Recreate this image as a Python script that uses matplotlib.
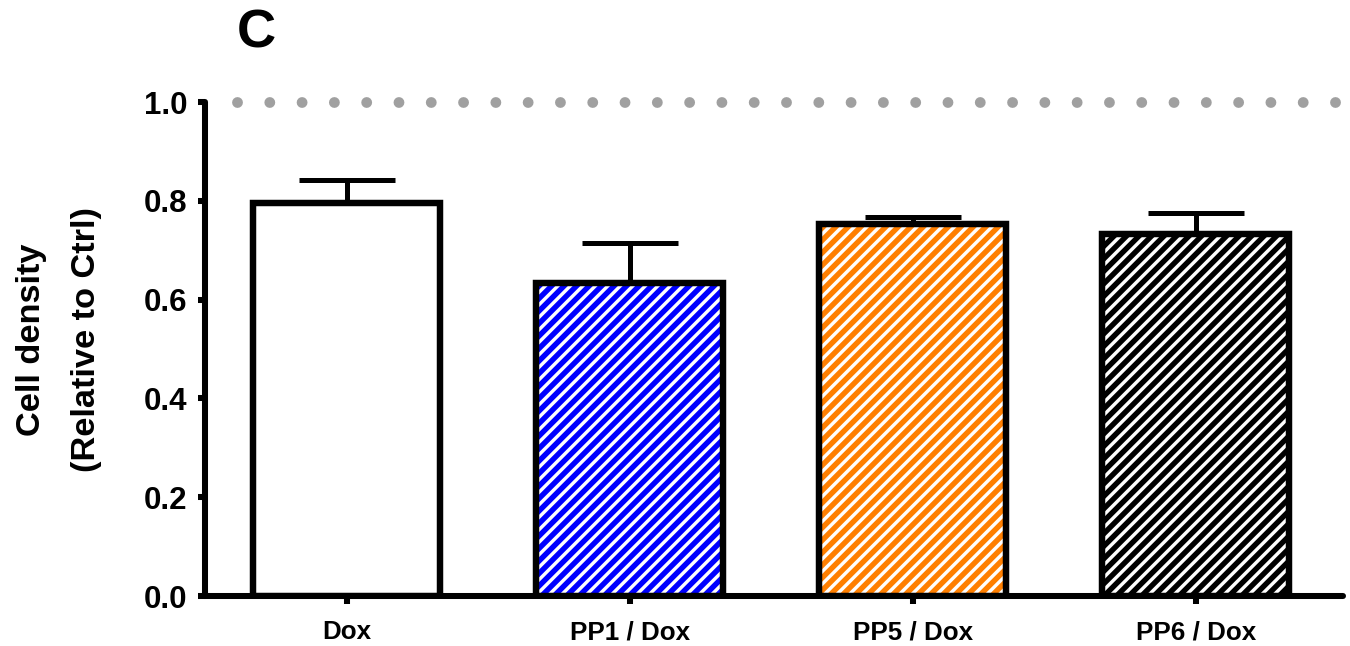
import numpy as np
import matplotlib
matplotlib.use('Agg')
import matplotlib.pyplot as plt

plt.rcParams['font.family'] = ['Liberation Sans', 'DejaVu Sans']
plt.rcParams['font.weight'] = 'bold'
plt.rcParams['hatch.linewidth'] = 2.6

# data
groups = ['Dox', 'PP1 / Dox', 'PP5 / Dox', 'PP6 / Dox']
means = [0.795, 0.633, 0.753, 0.732]
sem = [0.047, 0.082, 0.015, 0.043]
stripe_colors = ['white', '#0000ff', '#ff7f00', 'black']
hatches = ['', '////', '////', '////']
yticks = [0.0, 0.2, 0.4, 0.6, 0.8, 1.0]
ref_level = 1.0

W, H, DPI = 1350, 646, 150
fig = plt.figure(figsize=(W / DPI, H / DPI), dpi=DPI)
ax = fig.add_axes([205 / W, 50 / H, 1138 / W, 494 / H])

x = np.arange(len(groups))

# hatched fill, then the black outline on top
ax.bar(x, means, width=0.66, color='white', edgecolor=stripe_colors,
       hatch=hatches, linewidth=0, zorder=2)
ax.bar(x, means, width=0.66, fill=False, edgecolor='black',
       linewidth=3.1, zorder=3)

# upper error bars only
ax.errorbar(x, means, yerr=[np.zeros(len(means)), sem], fmt='none',
            ecolor='black', elinewidth=2.4, capsize=23, capthick=2.4,
            zorder=1)

# dotted reference line at control level
ax.axhline(ref_level, xmin=32 / 1138, xmax=1.0, color='#a0a0a0', lw=5.2,
           linestyle=(0, (0.001, 2.98)), dash_capstyle='round',
           clip_on=False, zorder=0)

ax.set_xlim(-0.5, 3.52)
ax.set_ylim(0, 1.0)

for side in ['top', 'right']:
    ax.spines[side].set_visible(False)
for side in ['left', 'bottom']:
    ax.spines[side].set_linewidth(2.9)
    ax.spines[side].set_capstyle('round')

ax.set_yticks(yticks)
ax.set_yticklabels([f'{v:.1f}' for v in yticks], fontsize=15, fontweight='bold')
ax.set_xticks(x)
ax.set_xticklabels(groups, fontsize=12.5, fontweight='bold')
ax.tick_params(axis='y', length=3.6, width=2.9, pad=5)
ax.tick_params(axis='x', length=3.6, width=2.9, pad=8)

fig.text(59 / W, 1 - 340 / H, 'Cell density\n(Relative to Ctrl)',
         fontsize=16.5, fontweight='bold', rotation=90, linespacing=2.0,
         ha='center', va='center', multialignment='center')

fig.text(237 / W, 1 - 34 / H, 'C', fontsize=26, fontweight='bold',
         va='center', ha='left')

fig.savefig('out.png', dpi=DPI)
